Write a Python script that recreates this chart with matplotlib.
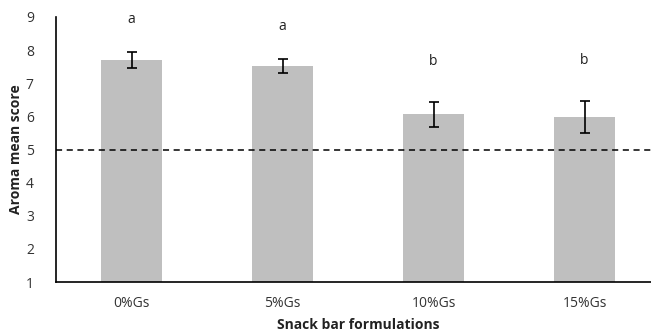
import matplotlib
matplotlib.use("Agg")
import matplotlib.pyplot as plt
import numpy as np

categories = ["0%Gs", "5%Gs", "10%Gs", "15%Gs"]
means = [7.70, 7.52, 6.06, 5.99]
errors = [0.24, 0.21, 0.38, 0.48]
letters = ["a", "a", "b", "b"]
letter_y = [8.92, 8.71, 7.66, 7.69]
reference = 5
yticks = list(range(1, 10))

plt.rcParams['font.family'] = ['Open Sans', 'DejaVu Sans']

fig = plt.figure(figsize=(6.51, 3.33), dpi=100)
ax = fig.add_axes([56/651, 51/333, 604/651, 265/333])

x = np.arange(len(categories))
ax.bar(x, means, width=0.4, color="#BFBFBF", zorder=2)
ax.errorbar(x, means, yerr=errors, fmt="none", ecolor="black", elinewidth=1.2,
            capsize=3.5, capthick=1.2, zorder=3)
ax.axhline(reference, color="black", linestyle=(0, (4, 3)), linewidth=1.1, zorder=4)
for xi, lab, ly in zip(x, letters, letter_y):
    ax.text(xi, ly, lab, ha="center", va="center", fontsize=10, color="#222222")

ax.set_xlim(-0.5, len(categories) - 0.5)
ax.set_ylim(1, 9)
ax.set_yticks(yticks)
ax.set_xticks(x)
ax.set_xticklabels(categories, fontsize=10, color="#333333")
ax.tick_params(axis="both", length=0, labelsize=10, labelcolor="#333333")
ax.tick_params(axis="x", pad=10)
ax.tick_params(axis="y", pad=16)
for s in ["top", "right"]:
    ax.spines[s].set_visible(False)
for s in ["left", "bottom"]:
    ax.spines[s].set_linewidth(1.2)
    ax.spines[s].set_color("black")

ax.set_ylabel("Aroma mean score", fontsize=10, fontweight="bold", color="#222222", labelpad=2)
ax.set_xlabel("Snack bar formulations", fontsize=10, fontweight="bold", color="#222222", labelpad=5)

fig.savefig("out.png", dpi=100)
